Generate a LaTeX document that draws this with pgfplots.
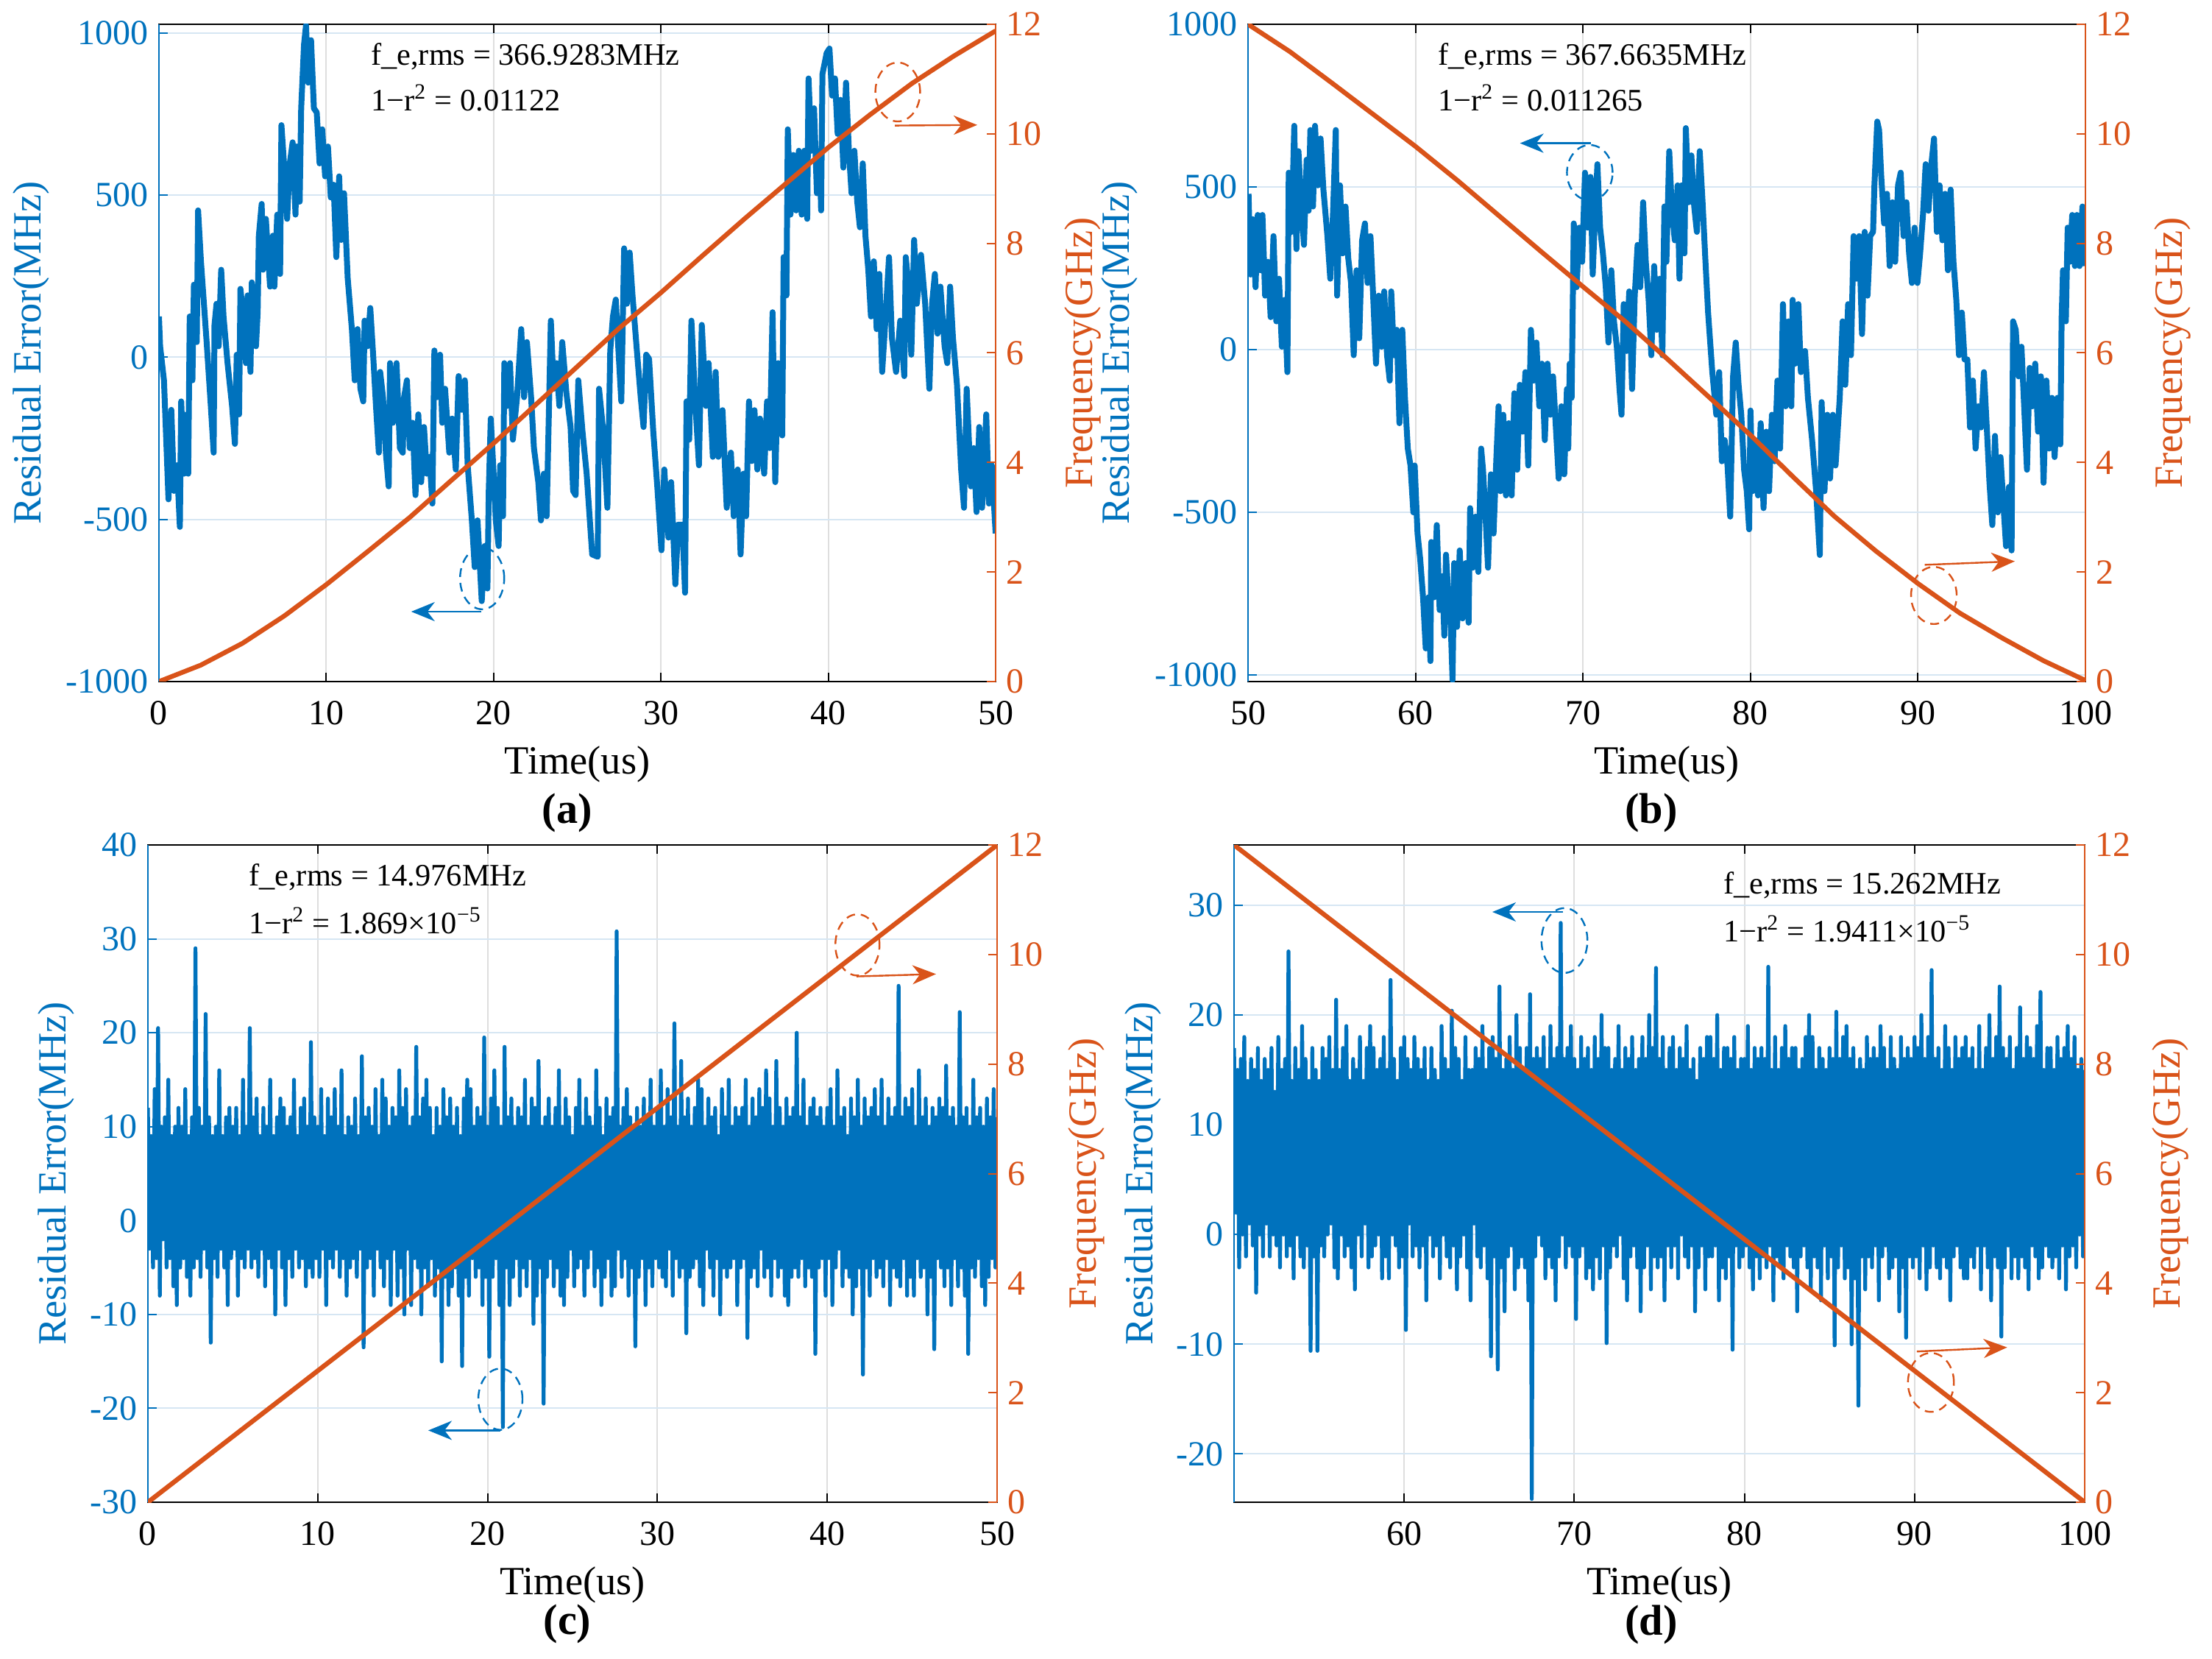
\documentclass[border=0pt]{standalone}
\usepackage{fontspec}
\setmainfont{Liberation Serif}
\usepackage{pgfplots}
\pgfplotsset{compat=1.18}
\usetikzlibrary{arrows.meta}
\definecolor{mblue}{RGB}{0,114,189}
\definecolor{morange}{RGB}{217,83,25}
\definecolor{gridb}{RGB}{214,230,243}
\definecolor{gridg}{RGB}{222,222,222}
\pgfplotsset{
  leftax/.style={
    scale only axis, anchor=south west,
    /pgf/number format/assume math mode=true,
    /pgf/number format/1000 sep={},
    scaled ticks=false,
    ytick pos=left,
    tick align=inside,
    major tick length=3pt,
    axis line style={black, line width=0.6pt},
    tick style={line width=0.5pt, black},
    every y tick/.append style={mblue},
    xmajorgrids, ymajorgrids,
    x grid style={gridg, line width=0.5pt},
    y grid style={gridb, line width=0.5pt},
    tick label style={font=\fontsize{12}{14}\selectfont},
    yticklabel style={text=mblue},
    xticklabel shift=3pt,
    label style={font=\fontsize{13.6}{16}\selectfont},
    xlabel={Time(us)},
    ylabel={Residual Error(MHz)},
    xlabel style={at={(axis description cs:0.5,-0.1254)}, anchor=center},
  },
  rightax/.style={
    scale only axis, anchor=south west,
    /pgf/number format/assume math mode=true,
    hide x axis,
    axis y line*=right,
    tick align=inside,
    major tick length=3pt,
    y axis line style={morange, line width=0.6pt},
    tick style={line width=0.5pt, morange},
    ymin=0, ymax=12, ytick={0,2,...,12},
    tick label style={font=\fontsize{12}{14}\selectfont},
    yticklabel style={text=morange},
    label style={font=\fontsize{13.6}{16}\selectfont},
    ylabel={Frequency(GHz)},
  },
  bl/.style={mblue, line width=2pt, line join=round, no markers},
  bn/.style={mblue, line width=1.3pt, line join=round, no markers},
  or/.style={morange, line width=1.6pt, line join=round, no markers},
}
\tikzset{
  ell/.style={dashed, dash pattern=on 3pt off 2pt, line width=0.6pt},
  arr/.style={line width=0.6pt, -{Stealth[length=8pt,width=6.5pt,inset=2.5pt]}},
}
\newcommand{\annfont}{\fontsize{10.6}{12}\selectfont}
\begin{document}
\begin{tikzpicture}
\useasboundingbox (0,0) rectangle (751.5pt,563.25pt);

% ================= (a) =================
\begin{axis}[leftax, at={(54pt,331.75pt)}, width=284.25pt, height=223.25pt,
  xmin=0, xmax=50, ymin=-1000, ymax=1027,
  xtick={0,10,...,50}, ytick={-1000,-500,...,1000},
  ylabel style={mblue, at={(axis description cs:-0.153,0.5)}, anchor=center}]
\addplot[bl] coordinates {
(0,126)(0.07,34)(0.3,-71)(0.57,-438)(0.74,-162)(0.9,-412)(1.08,-333)(1.25,-523)(1.33,-136)(1.5,-359)
(1.67,-176)(1.75,-359)(1.84,126)(2.0,-71)(2.09,224)(2.26,47)(2.34,453)(2.51,296)(2.85,47)(3.1,-150)
(3.27,-294)(3.32,100)(3.44,165)(3.57,34)(3.72,270)(3.86,126)(4.1,-18)(4.37,-150)(4.54,-267)(4.65,8)
(4.79,-176)(4.87,211)(5.04,126)(5.2,-18)(5.3,191)(5.47,-45)(5.55,231)(5.8,34)(5.9,139)(5.97,375)
(6.14,473)(6.22,270)(6.39,427)(6.64,218)(6.81,375)(6.9,218)(7.07,440)(7.24,257)(7.32,716)(7.49,585)
(7.66,427)(7.82,598)(7.99,663)(8.16,440)(8.24,650)(8.41,480)(8.5,768)(8.67,965)(8.79,1024)(8.92,847)
(9.09,978)(9.26,768)(9.43,755)(9.6,598)(9.76,703)(9.93,558)(10.1,650)(10.27,493)(10.44,532)(10.6,309)
(10.77,558)(10.89,362)(11.06,506)(11.28,244)(11.53,87)(11.7,-71)(11.87,87)(12.04,-97)(12.21,-136)(12.29,113)
(12.46,34)(12.63,152)(12.8,8)(12.97,-150)(13.14,-294)(13.22,-45)(13.39,-123)(13.56,-294)(13.73,-398)(13.81,-18)
(13.98,-202)(14.2,-18)(14.4,-280)(14.57,-294)(14.65,-123)(14.82,-71)(14.99,-280)(15.16,-202)(15.33,-425)(15.5,-176)
(15.67,-385)(15.84,-215)(16.01,-359)(16.17,-307)(16.34,-451)(16.46,21)(16.63,-123)(16.8,8)(16.93,-202)(17.1,-97)
(17.35,-294)(17.52,-189)(17.74,-346)(17.91,-58)(18.11,-162)(18.28,-71)(18.45,-333)(18.7,-503)(18.87,-647)(19.04,-503)
(19.29,-752)(19.46,-582)(19.63,-713)(19.71,-412)(19.83,-189)(20.0,-359)(20.13,-503)(20.3,-582)(20.39,-333)(20.56,-490)
(20.64,-18)(20.81,-150)(20.98,-18)(21.15,-254)(21.4,-123)(21.65,87)(21.82,-123)(21.99,47)(22.24,-123)(22.41,-280)
(22.67,-385)(22.83,-503)(23.0,-359)(23.17,-490)(23.42,113)(23.59,-97)(23.76,-18)(23.93,-150)(24.1,47)(24.35,-110)
(24.6,-215)(24.75,-412)(24.9,-425)(25.06,-71)(25.31,-228)(25.56,-359)(25.89,-608)(26.22,-615)(26.3,-97)(26.55,-228)
(26.8,-464)(26.97,21)(27.13,126)(27.3,178)(27.46,21)(27.63,-136)(27.8,336)(27.96,165)(28.13,323)(28.3,191)
(28.54,34)(28.79,-123)(28.96,-215)(29.12,8)(29.29,-5)(29.54,-228)(29.78,-398)(30.03,-595)(30.2,-346)(30.45,-556)
(30.61,-385)(30.86,-700)(31.03,-516)(31.28,-516)(31.44,-726)(31.53,-136)(31.69,-254)(31.82,113)(32.02,-110)(32.27,-333)
(32.44,100)(32.69,-150)(32.85,-18)(33.1,-307)(33.27,-45)(33.43,-307)(33.68,-163)(33.93,-464)(34.18,-294)(34.35,-490)
(34.59,-346)(34.76,-608)(34.93,-359)(35.09,-490)(35.26,-136)(35.43,-320)(35.59,-163)(35.76,-346)(35.92,-189)(36.17,-359)
(36.34,-136)(36.5,-280)(36.67,139)(36.83,-385)(37.0,-18)(37.25,-241)(37.33,309)(37.5,191)(37.58,703)(37.74,440)
(37.91,624)(38.08,453)(38.24,637)(38.41,440)(38.57,637)(38.74,427)(38.82,860)(38.99,637)(39.15,768)(39.32,506)
(39.49,637)(39.57,453)(39.65,873)(39.9,938)(40.07,952)(40.23,807)(40.4,860)(40.56,689)(40.73,794)(40.9,585)
(41.06,847)(41.23,637)(41.39,506)(41.56,637)(41.73,480)(41.89,401)(42.06,598)(42.22,375)(42.39,270)(42.55,126)
(42.72,296)(42.89,87)(43.05,257)(43.22,-45)(43.38,87)(43.63,309)(43.8,60)(44.05,-45)(44.3,113)(44.54,-58)
(44.63,309)(44.8,218)(44.96,8)(45.13,362)(45.29,165)(45.54,316)(45.79,165)(46.04,-97)(46.2,165)(46.37,257)
(46.53,73)(46.7,218)(46.95,34)(47.11,-18)(47.28,218)(47.45,60)(47.69,-84)(47.94,-346)(48.11,-464)(48.27,-97)
(48.52,-398)(48.69,-280)(48.86,-477)(49.02,-215)(49.19,-464)(49.44,-176)(49.6,-451)(49.77,-333)(50.0,-543)
};
\end{axis}
\draw[mblue, line width=0.6pt] (54pt,331.75pt) -- (54pt,555pt);
\begin{axis}[rightax, at={(54pt,331.75pt)}, width=284.25pt, height=223.25pt,
  xmin=0, xmax=50,
  ylabel style={morange, at={(axis description cs:1.104,0.5)}, anchor=center}]
\addplot[or] coordinates {
(0,0)(2.5,0.3)(5,0.7)(7.5,1.2)(10,1.77)(12.5,2.38)(15,3.0)(17.5,3.68)(20,4.35)(22.5,5.05)
(25,5.75)(27.5,6.45)(30,7.1)(32.5,7.78)(35,8.45)(37.5,9.1)(40,9.75)(42.5,10.35)(45,10.92)(47.5,11.42)(50,11.88)
};
\end{axis}

% ================= (b) =================
\begin{axis}[leftax, at={(424pt,331.75pt)}, width=284.5pt, height=223.25pt,
  xmin=50, xmax=100, ymin=-1020, ymax=1000,
  xtick={50,60,...,100}, ytick={-1000,-500,...,1000},
  ylabel style={mblue, at={(axis description cs:-0.153,0.5)}, anchor=center}]
\addplot[bl] coordinates {
(50.03,479)(50.15,231)(50.28,401)(50.45,192)(50.58,414)(50.74,244)(50.86,414)(51.02,166)(51.19,270)(51.35,100)
(51.52,349)(51.69,87)(51.85,218)(52.02,9)(52.18,153)(52.35,-69)(52.43,544)(52.6,362)(52.76,688)(52.89,309)
(53.01,610)(53.17,453)(53.34,322)(53.5,584)(53.62,427)(53.72,675)(53.88,440)(54.0,688)(54.17,505)(54.33,649)
(54.5,492)(54.74,349)(54.91,218)(55.07,414)(55.24,675)(55.32,166)(55.49,505)(55.65,296)(55.82,440)(55.98,283)
(56.15,205)(56.31,-17)(56.48,244)(56.64,35)(56.81,336)(56.98,388)(57.14,205)(57.31,349)(57.47,166)(57.64,-43)
(57.8,166)(57.97,9)(58.13,179)(58.3,-17)(58.46,-95)(58.55,179)(58.71,-17)(58.88,61)(59.04,-226)(59.21,61)
(59.37,-148)(59.54,-304)(59.7,-356)(59.87,-500)(59.95,-356)(60.12,-565)(60.28,-644)(60.45,-761)(60.61,-918)(60.78,-761)
(60.89,-957)(60.94,-591)(61.11,-761)(61.27,-539)(61.44,-800)(61.6,-696)(61.72,-879)(61.82,-630)(61.98,-774)(62.1,-839)
(62.21,-1015)(62.31,-656)(62.48,-852)(62.64,-617)(62.81,-826)(63.0,-656)(63.17,-839)(63.26,-487)(63.42,-670)(63.59,-513)
(63.75,-683)(63.92,-304)(64.03,-369)(64.17,-500)(64.33,-670)(64.5,-383)(64.66,-565)(64.83,-330)(64.96,-174)(65.07,-435)
(65.24,-200)(65.4,-448)(65.57,-226)(65.74,-448)(65.9,-134)(66.07,-369)(66.23,-108)(66.4,-252)(66.56,-69)(66.73,-356)
(66.89,61)(67.06,-95)(67.22,22)(67.39,-174)(67.55,-43)(67.72,-278)(67.88,-43)(68.05,-200)(68.21,-82)(68.38,-239)
(68.55,-396)(68.71,-174)(68.88,-383)(69.04,-121)(69.12,-304)(69.21,-43)(69.32,-148)(69.45,388)(69.62,192)(69.78,375)
(69.95,270)(70.12,544)(70.28,375)(70.45,531)(70.58,231)(70.69,375)(70.86,570)(71.02,375)(71.19,296)(71.36,192)
(71.52,22)(71.69,244)(71.85,87)(72.02,9)(72.18,-121)(72.3,-200)(72.43,140)(72.6,-4)(72.76,179)(72.93,-121)
(73.09,166)(73.26,322)(73.42,192)(73.59,453)(73.75,270)(73.92,153)(74.08,-17)(74.25,257)(74.41,61)(74.58,218)
(74.74,-17)(74.86,440)(74.98,270)(75.15,610)(75.31,427)(75.48,336)(75.65,505)(75.76,218)(75.89,505)(76.06,296)
(76.14,681)(76.31,453)(76.47,597)(76.64,440)(76.8,362)(76.97,610)(77.14,453)(77.3,283)(77.47,114)(77.72,-69)
(77.96,-200)(78.13,-69)(78.29,-343)(78.46,-278)(78.63,-356)(78.79,-513)(78.96,-82)(79.12,22)(79.29,-108)(79.45,-200)
(79.62,-369)(79.78,-435)(79.92,-552)(80.0,-187)(80.12,-435)(80.28,-278)(80.45,-448)(80.61,-226)(80.78,-487)(80.94,-252)
(81.11,-435)(81.28,-200)(81.44,-343)(81.61,-95)(81.77,-304)(81.94,140)(82.1,-174)(82.27,87)(82.44,-174)(82.52,153)
(82.67,-43)(82.86,140)(83.01,-69)(83.26,-4)(83.43,-148)(83.68,-278)(83.92,-435)(84.14,-631)(84.25,-161)(84.42,-435)
(84.59,-200)(84.75,-396)(84.92,-200)(85.08,-356)(85.33,-148)(85.5,87)(85.66,-108)(85.83,140)(86.0,-17)(86.16,349)
(86.33,218)(86.49,349)(86.66,48)(86.82,362)(86.99,166)(87.15,349)(87.32,362)(87.4,505)(87.57,701)(87.68,675)
(87.81,531)(87.98,388)(88.15,479)(88.31,257)(88.48,453)(88.64,270)(88.81,505)(88.97,544)(89.14,349)(89.31,453)
(89.47,296)(89.64,205)(89.8,375)(89.97,205)(90.13,296)(90.3,414)(90.46,570)(90.63,427)(90.8,570)(90.96,649)
(91.13,362)(91.29,505)(91.46,336)(91.62,479)(91.79,244)(91.95,492)(92.12,270)(92.29,153)(92.45,-17)(92.62,114)
(92.78,-30)(92.95,-30)(93.11,-239)(93.28,-95)(93.44,-304)(93.61,-174)(93.77,-239)(93.94,-69)(94.11,-239)(94.27,-409)
(94.44,-539)(94.6,-265)(94.77,-500)(94.93,-330)(95.1,-474)(95.26,-604)(95.43,-422)(95.59,-617)(95.68,87)(95.84,61)
(96.01,-82)(96.18,9)(96.34,-174)(96.51,-369)(96.67,-56)(96.84,-174)(97.0,-43)(97.17,-252)(97.34,-82)(97.5,-409)
(97.67,-95)(97.83,-304)(98.0,-148)(98.16,-330)(98.33,-148)(98.5,-291)(98.58,100)(98.66,244)(98.83,87)(98.94,375)
(99.07,270)(99.21,414)(99.37,257)(99.49,414)(99.65,257)(99.82,440)(99.98,257)
};
\end{axis}
\draw[mblue, line width=0.6pt] (424pt,331.75pt) -- (424pt,555pt);
\begin{axis}[rightax, at={(424pt,331.75pt)}, width=284.5pt, height=223.25pt,
  xmin=50, xmax=100,
  ylabel style={morange, at={(axis description cs:1.104,0.5)}, anchor=center}]
\addplot[or] coordinates {
(50,12)(52.5,11.5)(55,10.93)(57.5,10.35)(60,9.77)(62.5,9.15)(65,8.5)(67.5,7.85)(70,7.21)(72.5,6.58)
(75,5.9)(77.5,5.2)(80,4.5)(82.5,3.75)(85,3.02)(87.5,2.38)(90,1.79)(92.5,1.25)(95,0.8)(97.5,0.38)(100,0.02)
};
\end{axis}

% ================= (c) =================
\begin{axis}[leftax, at={(50.25pt,53pt)}, width=288.5pt, height=223.25pt,
  xmin=0, xmax=50, ymin=-30, ymax=40,
  xtick={0,10,...,50}, ytick={-30,-20,...,40},
  ylabel style={mblue, at={(axis description cs:-0.108,0.5)}, anchor=center}]
\addplot[bn] coordinates {
(0.0,12)(0.1,-3)(0.2,9)(0.3,-5)(0.4,14)(0.5,-4)(0.6,20.5)(0.7,-8)(0.8,10)(0.9,-2)
(1.0,11)(1.1,-5)(1.2,15)(1.3,-4)(1.4,9)(1.5,-7)(1.6,10)(1.7,-9)(1.8,12)(1.9,-5)
(2.0,10)(2.1,-4)(2.2,14)(2.3,-6)(2.4,9)(2.5,-8)(2.6,11)(2.7,-5)(2.8,29)(2.9,-4)
(3.0,12)(3.1,-6)(3.2,10)(3.3,-3)(3.4,22)(3.5,-5)(3.6,11)(3.7,-13)(3.8,9)(3.9,-4)
(4.0,10)(4.1,-6)(4.2,16)(4.3,-3)(4.4,9)(4.5,-5)(4.6,11)(4.7,-9)(4.8,12)(4.9,-4)
(5.0,10)(5.1,-3)(5.2,12)(5.3,-8)(5.4,9)(5.5,-4)(5.6,15)(5.7,-5)(5.8,10)(5.9,-3)
(6.0,20.5)(6.1,-5)(6.2,11)(6.3,-4)(6.4,13)(6.5,-6)(6.6,9)(6.7,-3)(6.8,12)(6.9,-7)
(7.0,10)(7.1,-4)(7.2,15)(7.3,-5)(7.4,9)(7.5,-10)(7.6,11)(7.7,-3)(7.8,13)(7.9,-5)
(8.0,12)(8.1,-9)(8.2,10)(8.3,-4)(8.4,11)(8.5,-6)(8.6,15)(8.7,-3)(8.8,9)(8.9,-5)
(9.0,12)(9.1,-4)(9.2,13)(9.3,-7)(9.4,10)(9.5,-5)(9.6,19)(9.7,-6)(9.8,11)(9.9,-4)
(10.0,10)(10.1,-6)(10.2,14)(10.3,-3)(10.4,9)(10.5,-9)(10.6,13)(10.7,-4)(10.8,11)(10.9,-5)
(11.0,14)(11.1,-3)(11.2,10)(11.3,-6)(11.4,16)(11.5,-4)(11.6,9)(11.7,-8)(11.8,11)(11.9,-5)
(12.0,10)(12.1,-4)(12.2,13)(12.3,-6)(12.4,9)(12.5,-3)(12.6,17.5)(12.7,-13.5)(12.8,11)(12.9,-5)
(13.0,12)(13.1,-4)(13.2,10)(13.3,-8)(13.4,14)(13.5,-3)(13.6,9)(13.7,-5)(13.8,15)(13.9,-7)
(14.0,13)(14.1,-4)(14.2,10)(14.3,-9)(14.4,12)(14.5,-3)(14.6,11)(14.7,-8)(14.8,16)(14.9,-5)
(15.0,12)(15.1,-10)(15.2,14)(15.3,-3)(15.4,10)(15.5,-9)(15.6,11)(15.7,-4)(15.8,18.5)(15.9,-5)
(16.0,11)(16.1,-10)(16.2,13)(16.3,-5)(16.4,15)(16.5,-7)(16.6,12)(16.7,-4)(16.8,9)(16.9,-8)
(17.0,12)(17.1,-5)(17.2,10)(17.3,-15)(17.4,14)(17.5,-6)(17.6,11)(17.7,-9)(17.8,13)(17.9,-7)
(18.0,10)(18.1,-5)(18.2,12)(18.3,-8)(18.4,9)(18.5,-15.5)(18.6,13)(18.7,-6)(18.8,15)(18.9,-8)
(19.0,14)(19.1,-4)(19.2,10)(19.3,-6)(19.4,12)(19.5,-5)(19.6,11)(19.7,-9)(19.8,19.5)(19.9,-6)
(20.0,10)(20.1,-14.5)(20.2,13)(20.3,-6)(20.4,16)(20.5,-4)(20.6,12)(20.7,-9)(20.8,10)(20.9,-22)
(21.0,18.5)(21.1,-5)(21.2,11)(21.3,-9)(21.4,13)(21.5,-6)(21.6,10)(21.7,-4)(21.8,12)(21.9,-8)
(22.0,11)(22.1,-5)(22.2,15)(22.3,-7)(22.4,10)(22.5,-4)(22.6,13)(22.7,-11)(22.8,12)(22.9,-8)
(23.0,17)(23.1,-5)(23.2,10)(23.3,-19.5)(23.4,11)(23.5,-6)(23.6,13)(23.7,-4)(23.8,10)(23.9,-7)
(24.0,12)(24.1,-5)(24.2,16)(24.3,-8)(24.4,10)(24.5,-9)(24.6,13)(24.7,-6)(24.8,11)(24.9,-3)
(25.0,9)(25.1,-7)(25.2,12)(25.3,-5)(25.4,15)(25.5,-4)(25.6,10)(25.7,-8)(25.8,13)(25.9,-5)
(26.0,11)(26.1,-3)(26.2,10)(26.3,-7)(26.4,16)(26.5,-5)(26.6,12)(26.7,-9)(26.8,9)(26.9,-6)
(27.0,13)(27.1,-4)(27.2,11)(27.3,-8)(27.4,12)(27.5,-7)(27.6,30.8)(27.7,-3)(27.8,10)(27.9,-6)
(28.0,12)(28.1,-4)(28.2,14)(28.3,-8)(28.4,11)(28.5,-5)(28.6,10)(28.7,-13.4)(28.8,12)(28.9,-6)
(29.0,10)(29.1,-4)(29.2,13)(29.3,-9)(29.4,11)(29.5,-5)(29.6,15)(29.7,-7)(29.8,10)(29.9,-4)
(30.0,12)(30.1,-5)(30.2,16)(30.3,-6)(30.4,10)(30.5,-7)(30.6,14)(30.7,-3)(30.8,11)(30.9,-8)
(31.0,21)(31.1,-4)(31.2,10)(31.3,-6)(31.4,17)(31.5,-5)(31.6,11)(31.7,-12)(31.8,13)(31.9,-6)
(32.0,10)(32.1,-5)(32.2,12)(32.3,-4)(32.4,15)(32.5,-7)(32.6,14)(32.7,-9)(32.8,10)(32.9,-3)
(33.0,13)(33.1,-5)(33.2,11)(33.3,-8)(33.4,12)(33.5,-4)(33.6,9)(33.7,-10)(33.8,14)(33.9,-5)
(34.0,11)(34.1,-6)(34.2,15)(34.3,-5)(34.4,10)(34.5,-4)(34.6,12)(34.7,-9)(34.8,11)(34.9,-5)
(35.0,12)(35.1,-4)(35.2,15)(35.3,-12.5)(35.4,10)(35.5,-6)(35.6,13)(35.7,-5)(35.8,11)(35.9,-7)
(36.0,14)(36.1,-3)(36.2,12)(36.3,-6)(36.4,16)(36.5,-5)(36.6,13)(36.7,-8)(36.8,10)(36.9,-4)
(37.0,17)(37.1,-6)(37.2,12)(37.3,-5)(37.4,10)(37.5,-8)(37.6,13)(37.7,-9)(37.8,11)(37.9,-6)
(38.0,12)(38.1,-5)(38.2,20)(38.3,-6)(38.4,11)(38.5,-4)(38.6,15)(38.7,-7)(38.8,10)(38.9,-5)
(39.0,12)(39.1,-6)(39.2,13)(39.3,-14.2)(39.4,11)(39.5,-5)(39.6,12)(39.7,-4)(39.8,10)(39.9,-8)
(40.0,12)(40.1,-4)(40.2,14)(40.3,-9)(40.4,10)(40.5,-5)(40.6,16)(40.7,-3)(40.8,11)(40.9,-7)
(41.0,12)(41.1,-5)(41.2,9)(41.3,-6)(41.4,13)(41.5,-10)(41.6,11)(41.7,-7)(41.8,15)(41.9,-5)
(42.0,10)(42.1,-16.4)(42.2,13)(42.3,-5)(42.4,11)(42.5,-8)(42.6,12)(42.7,-4)(42.8,14)(42.9,-6)
(43.0,11)(43.1,-5)(43.2,15)(43.3,-7)(43.4,10)(43.5,-4)(43.6,13)(43.7,-9)(43.8,11)(43.9,-5)
(44.0,12)(44.1,-6)(44.2,25)(44.3,-7)(44.4,11)(44.5,-4)(44.6,13)(44.7,-8)(44.8,12)(44.9,-6)
(45.0,14)(45.1,-8)(45.2,10)(45.3,-4)(45.4,16)(45.5,-6)(45.6,11)(45.7,-5)(45.8,13)(45.9,-10)
(46.0,10)(46.1,-6)(46.2,12)(46.3,-13.7)(46.4,11)(46.5,-4)(46.6,13)(46.7,-5)(46.8,12)(46.9,-7)
(47.0,16.5)(47.1,-5)(47.2,11)(47.3,-9)(47.4,12)(47.5,-4)(47.6,10)(47.7,-7)(47.8,22.2)(47.9,-5)
(48.0,11)(48.1,-8)(48.2,12)(48.3,-14.2)(48.4,10)(48.5,-5)(48.6,15)(48.7,-6)(48.8,11)(48.9,-4)
(49.0,12)(49.1,-7)(49.2,10)(49.3,-9)(49.4,13)(49.5,-6)(49.6,11)(49.7,-4)(49.8,14)(49.9,-5)(50.0,11)
};
\end{axis}
\draw[mblue, line width=0.6pt] (50.25pt,53pt) -- (50.25pt,276.25pt);
\begin{axis}[rightax, at={(50.25pt,53pt)}, width=288.5pt, height=223.25pt,
  xmin=0, xmax=50,
  ylabel style={morange, at={(axis description cs:1.105,0.5)}, anchor=center}]
\addplot[or] coordinates {(0,0)(50,12)};
\end{axis}

% ================= (d) =================
\begin{axis}[leftax, at={(419.25pt,53pt)}, width=289pt, height=223.25pt,
  xmin=50, xmax=100, ymin=-24.4, ymax=35.5,
  xtick={60,70,...,100}, ytick={-20,-10,...,30},
  ylabel style={mblue, at={(axis description cs:-0.107,0.5)}, anchor=center}]
\addplot[bn] coordinates {
(50.0,17)(50.1,2)(50.2,15)(50.3,-3)(50.4,16)(50.5,0)(50.6,18)(50.7,-2)(50.8,14)(50.9,1)
(51.0,16)(51.1,-1)(51.2,15)(51.3,-5.3)(51.4,17)(51.5,0)(51.6,14)(51.7,-2)(51.8,16)(51.9,1)
(52.0,15)(52.1,-2)(52.2,17)(52.3,0)(52.4,13)(52.5,-1)(52.6,18)(52.7,-3)(52.8,15)(52.9,0)
(53.0,16)(53.1,-2)(53.2,25.8)(53.3,-1)(53.4,14)(53.5,-4)(53.6,17)(53.7,0)(53.8,15)(53.9,-2)
(54.0,19)(54.1,-3)(54.2,16)(54.3,-1)(54.4,14)(54.5,-10.6)(54.6,17)(54.7,-2)(54.8,15)(54.9,-10.6)
(55.0,14)(55.1,-1)(55.2,17)(55.3,-2)(55.4,16)(55.5,0)(55.6,18)(55.7,1)(55.8,15)(55.9,-3)
(56.0,21.4)(56.1,-4)(56.2,15)(56.3,0)(56.4,17)(56.5,-2)(56.6,19)(56.7,-1)(56.8,14)(56.9,-3)
(57.0,16)(57.1,-5)(57.2,15)(57.3,0)(57.4,18)(57.5,-2)(57.6,14)(57.7,1)(57.8,17)(57.9,-3)
(58.0,19)(58.1,-2)(58.2,17)(58.3,-1)(58.4,15)(58.5,0)(58.6,16)(58.7,-4)(58.8,18)(58.9,-2)
(59.0,15)(59.1,-4)(59.2,23.2)(59.3,0)(59.4,16)(59.5,-1)(59.6,14)(59.7,-3)(59.8,17)(59.9,-2)
(60.0,18)(60.1,-8.7)(60.2,16)(60.3,1)(60.4,15)(60.5,-2)(60.6,18)(60.7,-1)(60.8,16)(60.9,-3)
(61.0,15)(61.1,-1)(61.2,17)(61.3,-6)(61.4,14)(61.5,0)(61.6,17)(61.7,-2)(61.8,15)(61.9,-1)
(62.0,14)(62.1,-4)(62.2,19)(62.3,0)(62.4,16)(62.5,-2)(62.6,15)(62.7,-3)(62.8,20.4)(62.9,-1)
(63.0,17)(63.1,-5)(63.2,16)(63.3,-2)(63.4,14)(63.5,0)(63.6,18)(63.7,-3)(63.8,15)(63.9,-6)
(64.0,15)(64.1,1)(64.2,17)(64.3,-2)(64.4,16)(64.5,-3)(64.6,19)(64.7,-1)(64.8,15)(64.9,-4)
(65.0,17)(65.1,-11.1)(65.2,18)(65.3,-2)(65.4,16)(65.5,-12.3)(65.6,22.6)(65.7,-3)(65.8,15)(65.9,-7)
(66.0,16)(66.1,-2)(66.2,18)(66.3,-1)(66.4,15)(66.5,-5)(66.6,20)(66.7,-3)(66.8,17)(66.9,-2)
(67.0,15)(67.1,-3)(67.2,17)(67.3,-6)(67.4,21.9)(67.5,-24.1)(67.6,16)(67.7,-2)(67.8,17)(67.9,0)
(68.0,16)(68.1,-1)(68.2,18)(68.3,-4)(68.4,15)(68.5,-2)(68.6,19)(68.7,-3)(68.8,16)(68.9,-6)
(69.0,17)(69.1,-2)(69.2,28.4)(69.3,0)(69.4,16)(69.5,-3)(69.6,17)(69.7,-1)(69.8,19)(69.9,-2)
(70.0,16)(70.1,-7.7)(70.2,15)(70.3,-2)(70.4,18)(70.5,-1)(70.6,16)(70.7,-4)(70.8,17)(70.9,-3)
(71.0,15)(71.1,-5)(71.2,18)(71.3,-2)(71.4,16)(71.5,-4)(71.6,20)(71.7,-1)(71.8,17)(71.9,-9.9)
(72.0,17)(72.1,-3)(72.2,15)(72.3,-1)(72.4,16)(72.5,-2)(72.6,19)(72.7,0)(72.8,15)(72.9,-4)
(73.0,17)(73.1,-6)(73.2,16)(73.3,-2)(73.4,18)(73.5,-1)(73.6,15)(73.7,-3)(73.8,16)(73.9,-7)
(74.0,18)(74.1,-3)(74.2,16)(74.3,-1)(74.4,20)(74.5,-5)(74.6,17)(74.7,-2)(74.8,24.3)(74.9,-3)
(75.0,16)(75.1,-2)(75.2,18)(75.3,-6)(75.4,15)(75.5,-1)(75.6,17)(75.7,-3)(75.8,18)(75.9,-1)
(76.0,15)(76.1,-4)(76.2,17)(76.3,0)(76.4,16)(76.5,-2)(76.6,19)(76.7,-3)(76.8,15)(76.9,-1)
(77.0,16)(77.1,-7)(77.2,14)(77.3,-3)(77.4,17)(77.5,-1)(77.6,16)(77.7,-5)(77.8,18)(77.9,-2)
(78.0,18)(78.1,-2)(78.2,16)(78.3,-1)(78.4,20)(78.5,-6)(78.6,15)(78.7,-3)(78.8,17)(78.9,-4)
(79.0,17)(79.1,-2)(79.2,16)(79.3,-10.5)(79.4,18)(79.5,-1)(79.6,15)(79.7,-3)(79.8,16)(79.9,-2)
(80.0,16)(80.1,-1)(80.2,19)(80.3,-3)(80.4,15)(80.5,-5)(80.6,17)(80.7,-2)(80.8,16)(80.9,-4)
(81.0,17)(81.1,-2)(81.2,16)(81.3,-3)(81.4,24.4)(81.5,-1)(81.6,15)(81.7,-6)(81.8,18)(81.9,-2)
(82.0,15)(82.1,-3)(82.2,17)(82.3,-4)(82.4,19)(82.5,-1)(82.6,16)(82.7,-2)(82.8,17)(82.9,-3)
(83.0,17)(83.1,-7)(83.2,15)(83.3,-2)(83.4,16)(83.5,-1)(83.6,18)(83.7,-3)(83.8,20)(83.9,-5)
(84.0,18)(84.1,-2)(84.2,15)(84.3,-3)(84.4,17)(84.5,-6)(84.6,16)(84.7,-1)(84.8,15)(84.9,-4)
(85.0,17)(85.1,-2)(85.2,16)(85.3,-10.1)(85.4,20.3)(85.5,-3)(85.6,16)(85.7,-1)(85.8,18)(85.9,-4)
(86.0,19)(86.1,-3)(86.2,16)(86.3,-10)(86.4,17)(86.5,-4)(86.6,15)(86.7,-15.6)(86.8,16)(86.9,-2)
(87.0,15)(87.1,-5)(87.2,18)(87.3,-2)(87.4,16)(87.5,-3)(87.6,17)(87.7,-1)(87.8,16)(87.9,-6)
(88.0,19)(88.1,-2)(88.2,17)(88.3,-1)(88.4,15)(88.5,-4)(88.6,18)(88.7,-3)(88.8,16)(88.9,-2)
(89.0,15)(89.1,-7)(89.2,18)(89.3,-3)(89.4,16)(89.5,-9.4)(89.6,17)(89.7,-2)(89.8,16)(89.9,-3)
(90.0,18)(90.1,-2)(90.2,17)(90.3,-4)(90.4,20)(90.5,-1)(90.6,16)(90.7,-5)(90.8,18)(90.9,-3)
(91.0,24.1)(91.1,-1)(91.2,16)(91.3,-3)(91.4,17)(91.5,-4)(91.6,15)(91.7,-2)(91.8,19)(91.9,-3)
(92.0,17)(92.1,-6)(92.2,15)(92.3,-2)(92.4,18)(92.5,-1)(92.6,16)(92.7,-3)(92.8,17)(92.9,-4)
(93.0,18)(93.1,-4)(93.2,16)(93.3,-2)(93.4,17)(93.5,-3)(93.6,15)(93.7,-1)(93.8,19)(93.9,-5)
(94.0,15)(94.1,-1)(94.2,17)(94.3,-3)(94.4,20)(94.5,-6)(94.6,16)(94.7,-2)(94.8,18)(94.9,-3)
(95.0,22.6)(95.1,-9.3)(95.2,17)(95.3,-3)(95.4,16)(95.5,-1)(95.6,18)(95.7,-4)(95.8,15)(95.9,-2)
(96.0,17)(96.1,-4)(96.2,20.7)(96.3,-2)(96.4,16)(96.5,-3)(96.6,18)(96.7,-5)(96.8,17)(96.9,-1)
(97.0,16)(97.1,-2)(97.2,19)(97.3,-4)(97.4,22.1)(97.5,-3)(97.6,15)(97.7,-1)(97.8,17)(97.9,-2)
(98.0,17)(98.1,-3)(98.2,15)(98.3,-2)(98.4,18)(98.5,-4)(98.6,16)(98.7,-1)(98.8,17)(98.9,-5)
(99.0,19)(99.1,-2)(99.2,16)(99.3,-1)(99.4,18)(99.5,-3)(99.6,15)(99.7,0)(99.8,16)(99.9,-2)(100.0,15)
};
\end{axis}
\draw[mblue, line width=0.6pt] (419.25pt,53pt) -- (419.25pt,276.25pt);
\begin{axis}[rightax, at={(419.25pt,53pt)}, width=289pt, height=223.25pt,
  xmin=50, xmax=100,
  ylabel style={morange, at={(axis description cs:1.101,0.5)}, anchor=center}]
\addplot[or] coordinates {(50,12)(100,0)};
\end{axis}

% ================= annotations =================
\node[anchor=west, font=\annfont] at (122.5pt,544pt) {f\_e,rms = 366.9283MHz};
\node[anchor=west, font=\annfont] at (122.5pt,530pt) {1−r\textsuperscript{2} = 0.01122};
\node[anchor=west, font=\annfont] at (485pt,544pt) {f\_e,rms = 367.6635MHz};
\node[anchor=west, font=\annfont] at (485pt,530pt) {1−r\textsuperscript{2} = 0.011265};
\node[anchor=west, font=\annfont] at (81pt,265.3pt) {f\_e,rms = 14.976MHz};
\node[anchor=west, font=\annfont] at (81pt,250.6pt) {1−r\textsuperscript{2} = 1.869×10\textsuperscript{−5}};
\node[anchor=west, font=\annfont] at (582pt,262.5pt) {f\_e,rms = 15.262MHz};
\node[anchor=west, font=\annfont] at (582pt,247.8pt) {1−r\textsuperscript{2} = 1.9411×10\textsuperscript{−5}};

% (a)
\draw[mblue, ell] (163.8pt,366.8pt) ellipse [x radius=7.5pt, y radius=10.5pt];
\draw[mblue, arr] (163.5pt,355.5pt) -- (139.7pt,355.5pt);
\draw[morange, ell] (305pt,532pt) ellipse [x radius=7.6pt, y radius=10pt];
\draw[morange, arr] (304pt,520.6pt) -- (332pt,520.8pt);
% (b)
\draw[mblue, ell] (540.1pt,504.6pt) ellipse [x radius=7.75pt, y radius=9.4pt];
\draw[mblue, arr] (540.4pt,514.6pt) -- (516.4pt,514.6pt);
\draw[morange, ell] (657pt,361pt) ellipse [x radius=7.75pt, y radius=9.7pt];
\draw[morange, arr] (653.9pt,371.4pt) -- (684.5pt,372.6pt);
% (c)
\draw[mblue, ell] (170pt,88pt) ellipse [x radius=7.5pt, y radius=10.4pt];
\draw[mblue, arr] (170pt,77.4pt) -- (145.5pt,77.4pt);
\draw[morange, ell] (291.3pt,242.3pt) ellipse [x radius=7.5pt, y radius=10.4pt];
\draw[morange, arr] (291pt,231.6pt) -- (318pt,232.4pt);
% (d)
\draw[mblue, ell] (531.5pt,243.8pt) ellipse [x radius=7.8pt, y radius=11pt];
\draw[mblue, arr] (531pt,253.5pt) -- (507pt,253.5pt);
\draw[morange, ell] (656pt,93.7pt) ellipse [x radius=7.8pt, y radius=10pt];
\draw[morange, arr] (651.2pt,104.2pt) -- (681.9pt,105.6pt);

% sub-captions
\node[font=\fontsize{14.6}{17}\selectfont\bfseries] at (192.75pt,287.25pt) {(a)};
\node[font=\fontsize{14.6}{17}\selectfont\bfseries] at (561pt,287.25pt) {(b)};
\node[font=\fontsize{14.6}{17}\selectfont\bfseries] at (192.75pt,11.75pt) {(c)};
\node[font=\fontsize{14.6}{17}\selectfont\bfseries] at (561pt,11.5pt) {(d)};
\end{tikzpicture}
\end{document}
